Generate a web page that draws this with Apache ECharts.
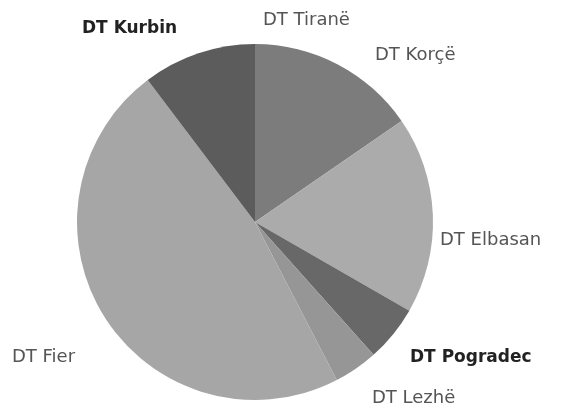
<!DOCTYPE html>
<html>
<head>
<meta charset="utf-8">
<script src="https://cdn.jsdelivr.net/npm/echarts@6/dist/echarts.min.js"></script>
<style>html,body{margin:0;padding:0;background:#fff;}#c{width:566px;height:410px;}</style>
</head>
<body>
<div id="c"></div>
<script>
var categories = ["DT Tiranë", "DT Korçë", "DT Elbasan", "DT Pogradec", "DT Lezhë", "DT Fier", "DT Kurbin"];
var values = [15.4, 0, 17.9, 5.1, 4.0, 47.3, 10.3];

var colors = ["#7c7c7c", "#7c7c7c", "#ababab", "#686868", "#969696", "#a6a6a6", "#5c5c5c"];
var bold = [false, false, false, true, false, false, true];
var labelPos = [[263, 20], [375, 55], [440, 240], [410, 358], [372, 398], [12, 357], [82, 29]];

var chart = echarts.init(document.getElementById('c'), null, {renderer: 'canvas'});
chart.setOption({
  animation: false,
  backgroundColor: '#fff',
  series: [{
    type: 'pie',
    center: [255, 222],
    radius: [0, 178],
    startAngle: 90,
    clockwise: true,
    avoidLabelOverlap: false,
    minShowLabelAngle: 0,
    data: categories.map(function (c, i) {
      return {
        name: c,
        value: values[i],
        itemStyle: {color: colors[i]},
        label: {
          fontWeight: bold[i] ? 'bold' : 'normal',
          color: bold[i] ? '#222' : '#555',
          fontSize: bold[i] ? 17 : 18
        }
      };
    }),
    itemStyle: {borderWidth: 0},
    label: {show: true, position: 'outside', formatter: '{b}', fontFamily: 'DejaVu Sans'},
    labelLine: {show: false},
    labelLayout: function (p) {
      var pos = labelPos[p.dataIndex];
      return {x: pos[0], y: pos[1], align: 'left', verticalAlign: 'middle'};
    }
  }]
});
</script>
</body>
</html>
